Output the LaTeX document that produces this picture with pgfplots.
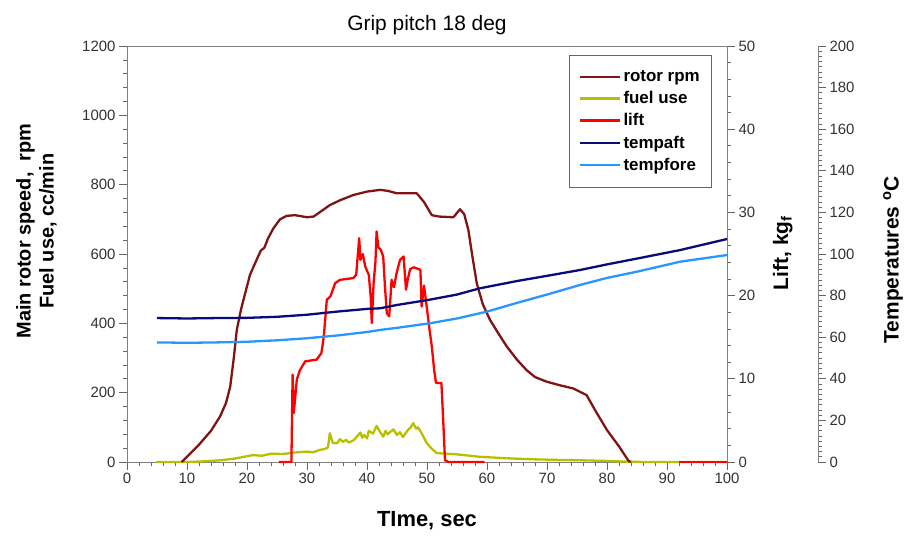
\documentclass[border=0pt]{standalone}
\usepackage{fontspec}
\setmainfont{Liberation Sans}
\usepackage{pgfplots}
\pgfplotsset{compat=1.18}
\definecolor{crpm}{RGB}{128,20,20}
\definecolor{cfuel}{RGB}{184,190,0}
\definecolor{clift}{RGB}{255,0,0}
\definecolor{caft}{RGB}{10,10,120}
\definecolor{cfore}{RGB}{40,150,250}
\pgfplotsset{
  common/.style={
    width=600bp, height=416bp, scale only axis,
    at={(0,0)}, anchor=south west,
    xmin=0, xmax=100,
    axis line style={black!50, line width=0.8bp},
    tick style={black!60, line width=0.7bp},
    major tick length=8bp, minor tick length=4bp,
    tick align=outside,
    ticklabel style={font=\fontsize{15}{17}\selectfont, text=black!80},
    /pgf/number format/assume math mode=true,
    /pgf/number format/1000 sep={},
    clip=false,
  },
  dline/.style={line width=2.3bp, line join=round},
}
\begin{document}
\begin{tikzpicture}[x=1bp,y=1bp]
\useasboundingbox (-127bp,-81bp) rectangle (780bp,462bp);
% main axis: rotor rpm and fuel use
\begin{axis}[common,
  ymin=0, ymax=1200,
  xtick={0,10,...,100}, ytick={0,200,...,1200},
  minor x tick num=4, minor y tick num=4,
  xtick pos=left, ytick pos=left,
  title={Grip pitch 18 deg},
  title style={at={(axis description cs:0.5,1.036)}, anchor=center, font=\fontsize{21}{24}\selectfont},
  xlabel={TIme, sec},
  xlabel style={at={(axis description cs:0.5,-0.142)}, anchor=center, font=\bfseries\fontsize{22}{26}\selectfont},
  ylabel={Main rotor speed,\ \ rpm\\Fuel use, cc/min},
  ylabel style={at={(axis description cs:-0.151,0.555)}, anchor=center, align=center, font=\bfseries\fontsize{20}{23}\selectfont},
]
\addplot[dline, cfuel] coordinates {
(4.9,0) (10,0) (13,2) (15.6,5) (18,10) (21,20) (22.5,18) (24,24) (26,23) (27.7,27) (30,30) (31,28) (32.2,35) (33,38) (33.5,42)
(33.8,83) (34.3,55) (35,54) (35.5,66) (36,58) (36.5,64) (37,56) (37.8,63) (38.4,75) (38.9,85) (39.2,70) (39.5,78) (40,68) (40.3,90) (41,82)
(41.6,104) (42.2,86) (42.7,73) (43.1,90) (43.4,80) (44.4,94) (45,78) (45.5,86) (46,72) (46.8,92) (47.3,100) (47.7,112) (48.2,96) (48.5,100)
(49.2,80) (49.9,56) (50.7,40) (51.6,26) (52.2,25) (55,22) (58.8,15) (63,11) (67.2,8) (72,6) (75.5,5)
(80,3) (83.3,1) (86,0) (100,0)
};
\addplot[dline, crpm] coordinates {
(9.1,0) (10,15) (12,50) (14,90) (15.5,131) (16.5,170) (17.2,217) (17.8,300) (18.3,381) (19,440) (19.7,487)
(20.5,540) (21.6,583) (22.3,610) (22.9,618) (23.5,645) (24.4,674) (25.5,700) (26.6,710) (28,712) (30,706)
(31.1,708) (32.5,725) (33.8,741) (35.5,755) (37.7,770) (40,780) (42.2,785) (43.5,782) (45,775) (48.3,775)
(49.5,750) (50.8,712) (52,708) (54.4,706) (55.5,729) (56.2,715) (56.9,669) (57.5,600) (58.3,515) (59.3,455)
(60.5,410) (62,368) (63.3,333) (65,295) (66.6,265) (68,245) (69.9,232) (72,222) (74.4,212) (76.6,193)
(78,150) (80,92) (82,45) (83.6,3) (84,0)
};
\end{axis}
% lift axis
\begin{axis}[common,
  ymin=0, ymax=50, ytick={0,10,...,50}, minor y tick num=4,
  hide x axis, axis y line*=right,
  ylabel={Lift, kg\textsubscript{f}},
  ylabel style={at={(axis description cs:1.093,0.502)}, anchor=center, font=\bfseries\fontsize{21}{24}\selectfont},
]
\addplot[dline, clift] coordinates {
(25.3,0) (27.4,0) (27.6,10.5) (27.8,5.9) (28.3,9.9) (28.8,11) (29.7,12.1) (31.6,12.3) (32.4,13.1) (32.8,15.1)
(33.3,19.5) (33.9,19.9) (34.7,21.5) (35.5,21.9) (37.7,22.1) (38.2,22.5) (38.4,24.3) (38.7,26.9) (38.9,24.3)
(39.3,25) (39.7,23.5) (40.3,22.5) (40.6,20) (40.8,16.7) (41.1,21.5) (41.4,24) (41.6,27.7) (41.9,25.8)
(42.3,25.5) (42.7,24.7) (43,21) (43.3,17.9) (43.7,17.5) (44.1,21.9) (44.5,21) (44.9,22.6) (45.5,24.3)
(46.1,24.7) (46.5,20.7) (46.8,22) (47.2,23.2) (47.8,23.4) (48.9,23.1) (49.1,18.7) (49.5,21.2) (50,18.4)
(50.4,16) (50.8,13.9) (51.2,11) (51.5,9.5) (52.4,9.5) (52.7,5) (53,0.2) (53.6,0) (59.6,0)
};
\addplot[dline, clift] coordinates {(92,0) (100,0)};
\end{axis}
% temperature data + legend
\begin{axis}[common,
  ymin=0, ymax=200, hide axis,
  legend cell align=left,
  legend style={at={(axis description cs:0.975,0.978)}, anchor=north east, draw=black!60, line width=0.6bp,
    font=\bfseries\fontsize{17}{20}\selectfont, inner xsep=10bp, inner ysep=13bp, row sep=4.5bp},
  legend image code/.code={\draw[#1] (0bp,0bp) -- (40bp,0bp);},
]
\addlegendimage{dline, crpm}\addlegendentry{rotor rpm}
\addlegendimage{dline, cfuel}\addlegendentry{fuel use}
\addlegendimage{dline, clift}\addlegendentry{lift}
\addplot[dline, caft] coordinates {
(5,69.2) (10,69.0) (15,69.2) (20,69.3) (25,69.8) (30,70.8) (35,72.3) (40,73.6) (42.2,73.9) (45,75.5)
(50,77.8) (55,80.5) (58.8,83.5) (65,87) (70,89.5) (75.5,92.3) (80,95) (85,97.8) (92.2,101.9) (100,107.2)
};
\addlegendentry{tempaft}
\addplot[dline, cfore] coordinates {
(5,57.5) (10,57.3) (15,57.5) (20,57.8) (25,58.5) (30,59.5) (35,60.8) (40,62.5) (42.2,63.5) (45,64.5)
(50.5,66.7) (55,69) (60,72.3) (65,76.5) (70,80.5) (75.5,85.1) (80,88.5) (85,91.5) (92.2,96.3) (100,99.5)
};
\addlegendentry{tempfore}
\end{axis}
% temperature scale
\begin{axis}[
  width=20bp, height=416bp, scale only axis,
  at={(671bp,0)}, anchor=south west,
  xmin=0, xmax=1, ymin=0, ymax=200,
  hide x axis, axis y line*=right,
  ytick={0,20,...,200}, minor y tick num=7,
  axis line style={black!50, line width=0.8bp},
  tick style={black!60, line width=0.7bp},
  major tick length=8bp, minor tick length=4bp,
  tick align=outside,
  ticklabel style={font=\fontsize{15}{17}\selectfont, text=black!80},
  /pgf/number format/assume math mode=true,
  ylabel={Temperatures \textsuperscript{o}C},
  ylabel style={at={(axis description cs:4.75,0.486)}, anchor=center, font=\bfseries\fontsize{21}{24}\selectfont},
]
\end{axis}
\end{tikzpicture}
\end{document}
